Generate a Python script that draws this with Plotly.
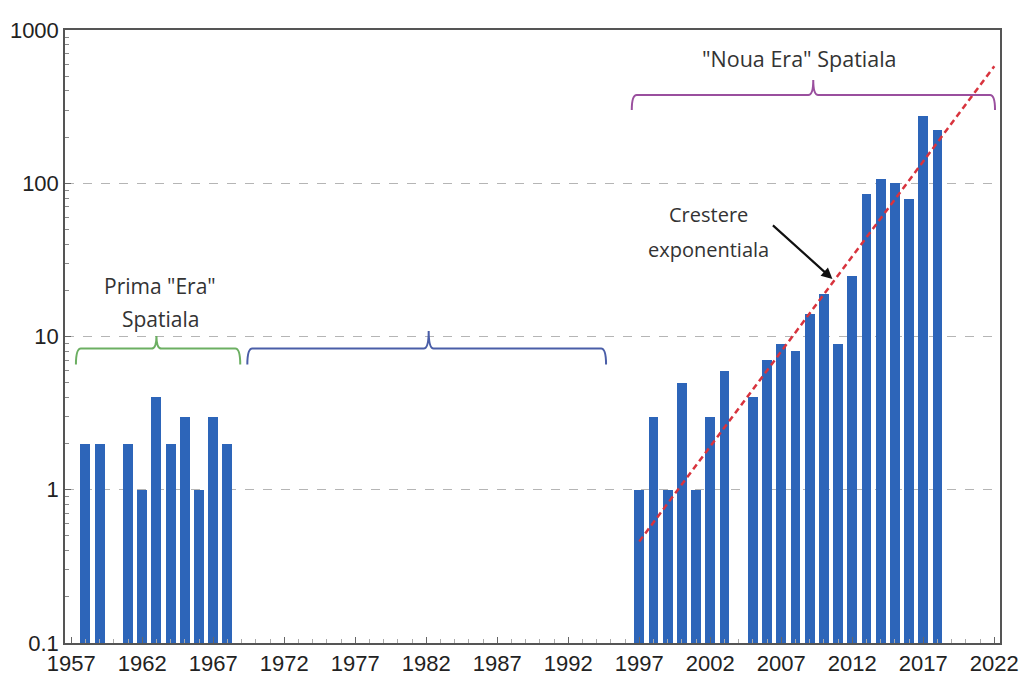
import plotly.graph_objects as go

# ---- data ----
years_first = [1958, 1959, 1961, 1962, 1963, 1964, 1965, 1966, 1967, 1968]
launches_first = [2, 2, 2, 1, 4, 2, 3, 1, 3, 2]

years_new = [1997, 1998, 1999, 2000, 2001, 2002, 2003, 2005, 2006, 2007, 2008,
             2009, 2010, 2011, 2012, 2013, 2014, 2015, 2016, 2017, 2018]
launches_new = [1, 3, 1, 5, 1, 3, 6, 4, 7, 9, 8,
                14, 19, 9, 25, 85, 107, 100, 79, 276, 224]

trend_years = [1997, 2022]
trend_values = [0.46, 580]

x_tick_years = [1957, 1962, 1967, 1972, 1977, 1982, 1987, 1992, 1997, 2002, 2007, 2012, 2017, 2022]
y_tick_values = [0.1, 1, 10, 100, 1000]
y_tick_labels = ["0.1", "1", "10", "100", "1000"]

# ---- figure ----
BAR_COLOR = "#2d65b9"
TXT = "#333333"
FONT = "Open Sans"

fig = go.Figure()
fig.add_trace(go.Bar(x=years_first + years_new, y=launches_first + launches_new,
                     width=0.7, marker=dict(color=BAR_COLOR, line=dict(width=0)),
                     showlegend=False))
fig.add_trace(go.Scatter(x=trend_years, y=trend_values, mode="lines",
                         line=dict(color="#d8333d", width=2.5, dash="6px,4px"),
                         showlegend=False))

def ypx(p):
    # pixel row in the reference -> paper fraction of the plot area (30..643)
    return (643 - p) / 613.0

def brace(x0, x1, xm, yh, yb, yt, color, d=0.35):
    path = (f"M {x0},{ypx(yb)} Q {x0},{ypx(yh)} {x0+d},{ypx(yh)} "
            f"L {xm-d},{ypx(yh)} Q {xm},{ypx(yh)} {xm},{ypx(yt)} "
            f"Q {xm},{ypx(yh)} {xm+d},{ypx(yh)} "
            f"L {x1-d},{ypx(yh)} Q {x1},{ypx(yh)} {x1},{ypx(yb)}")
    return dict(type="path", xref="x", yref="paper", path=path,
                line=dict(color=color, width=2))

shapes = [
    brace(1957.33, 1968.9, 1963.0, 348.6, 364.6, 336, "#6caf62"),
    brace(1969.4, 1994.66, 1982.17, 348.6, 364.6, 331, "#4a5ea8"),
    brace(1996.47, 2022.05, 2009.25, 95, 110, 80, "#9a4f9e"),
]

def label(x, ypix, text, size):
    return dict(x=x, y=ypx(ypix), xref="x", yref="paper", text=text,
                xanchor="center", yanchor="middle", showarrow=False,
                font=dict(family=FONT, size=size, color=TXT))

annotations = [
    label(1963.25, 286, 'Prima "Era"', 21),
    label(1963.25, 319, "Spatiala", 21),
    label(2008.3, 58, '"Noua Era" Spatiala', 21.5),
    label(2001.85, 215, "Crestere", 20),
    label(2001.85, 249, "exponentiala", 20),
    dict(x=2010.6, y=ypx(279), xref="x", yref="paper", text="", showarrow=True,
         ax=-61, ay=-55, arrowhead=2, arrowsize=1, arrowwidth=2.2, arrowcolor="#111111"),
]

fig.update_layout(
    width=1028, height=675,
    margin=dict(l=57, r=36, t=22, b=40, autoexpand=False),
    paper_bgcolor="white", plot_bgcolor="white",
    bargap=0, shapes=shapes, annotations=annotations,
    font=dict(family="Liberation Sans", color="#222222"),
)
fig.update_xaxes(
    range=[1956.56, 2022.4], tickmode="array", tickvals=x_tick_years,
    ticks="inside", ticklen=6, tickcolor="#666", automargin=False,
    tickfont=dict(size=22, family="Liberation Sans", color="#222"),
    showline=True, linecolor="#555", linewidth=1.5, mirror=True,
    showgrid=False, zeroline=False,
    minor=dict(dtick=1, ticks="inside", ticklen=4, tickcolor="#aaa"),
)
fig.update_yaxes(
    type="log", range=[-1, 3], tickmode="array", tickvals=y_tick_values,
    ticktext=y_tick_labels, ticks="inside", ticklen=6, tickcolor="#666",
    automargin=False,
    tickfont=dict(size=22, family="Liberation Sans", color="#222"),
    showline=True, linecolor="#555", linewidth=1.5, mirror=True,
    showgrid=True, gridcolor="#b5b5b5", griddash="dash", gridwidth=1,
    zeroline=False,
    minor=dict(dtick="D1", ticks="inside", ticklen=4, tickcolor="#888", showgrid=False),
)

fig.write_html("out.html")
